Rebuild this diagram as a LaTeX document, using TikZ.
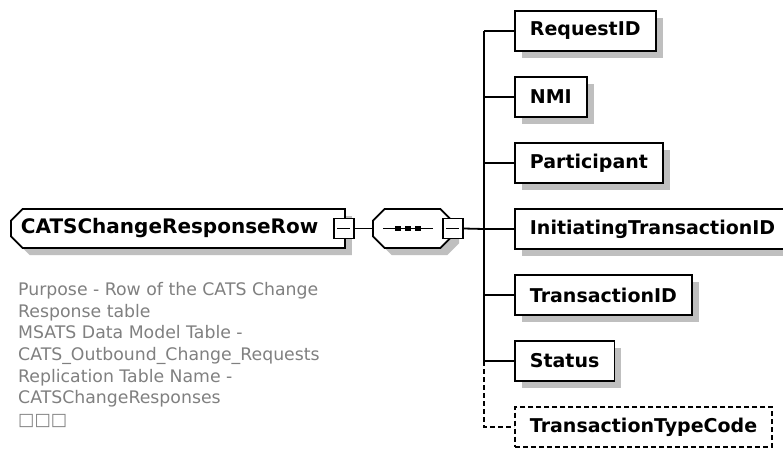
\documentclass[tikz,border=0pt]{standalone}
\usepackage{fontspec}
\setmainfont{DejaVu Sans}
\usetikzlibrary{shapes.misc,shadows,calc}
\begin{document}
\begin{tikzpicture}[x=1pt,y=-1pt,
  ln/.style={line width=1.8pt},
  shd/.style={drop shadow={shadow xshift=7pt,shadow yshift=-7pt,fill=black!25,opacity=1}},
  elem/.style={ln,draw,fill=white,anchor=west,minimum height=40pt,inner xsep=15pt,
    font=\fontsize{19}{22}\selectfont\bfseries},
  minusbox/.style={ln,draw,fill=white,minimum size=20pt,inner sep=0pt,
    path picture={\draw[ln] ($(path picture bounding box.center)+(-6.5pt,0)$) -- ($(path picture bounding box.center)+(6.5pt,0)$);}},
  dsh/.style={dash pattern=on 5pt off 3pt}
]
\useasboundingbox (0,0) rectangle (783,448);
\fill[white] (0,0) rectangle (783,448);

% root element
\node[chamfered rectangle,chamfered rectangle corners={north west,south west},
  chamfered rectangle xsep=8pt,ln,draw,fill=white,shd,
  minimum width=334pt,minimum height=39pt,text width=314pt,align=left,inner xsep=2pt,
  anchor=west,font=\fontsize{20}{24}\selectfont\bfseries] (root) at (10,228.5) {CATSChangeResponseRow};
\node[minusbox] (rootm) at ($(root.east)+(-2,0)$) {};

% sequence compositor
\node[chamfered rectangle,chamfered rectangle xsep=10pt,ln,draw,fill=white,shd,
  minimum width=79pt,minimum height=39pt,text width=40pt,inner sep=8pt] (seq) at (412.5,228.5) {};
\draw[ln] ($(seq.center)+(-29.5,0)$) -- ($(seq.center)+(20.5,0)$);
\foreach \dx in {-14.5,-4.5,5.5}{\fill ($(seq.center)+(\dx-2.8,-2.8)$) rectangle ($(seq.center)+(\dx+2.8,2.8)$);}
\node[minusbox] (seqm) at (seq.east) {};

\draw[ln] (rootm.east) -- (seq.west);

% children
\node[elem,shd] (c1) at (514,31) {RequestID};
\node[elem,shd] (c2) at (514,97) {NMI};
\node[elem,shd] (c3) at (514,163) {Participant};
\node[elem,shd] (c4) at (514,229) {InitiatingTransactionID};
\node[elem,shd] (c5) at (514,295) {TransactionID};
\node[elem,shd] (c6) at (514,361) {Status};
\node[elem,dsh] (c7) at (514,427) {TransactionTypeCode};

\coordinate (b0) at (484,229);
\coordinate (b1) at (484,31);
\coordinate (b6) at (484,361);
\coordinate (b7) at (484,427);
\draw[ln] (seqm.east) -- (b0);
\draw[ln] (b1) -- (b6);
\draw[ln,dsh] (b6) -- (b7) -- (c7.west);
\foreach \i in {1,...,6}{\draw[ln] (b1|-c\i.west) -- (c\i.west);}

% annotation
\node[anchor=north west,align=left,inner sep=0pt,text=black!50,
  font=\fontsize{17.3}{21.7}\selectfont] (ann) at (18,282)
  {Purpose - Row of the CATS Change\\Response table\\MSATS Data Model Table -\\CATS\_Outbound\_Change\_Requests\\Replication Table Name -\\CATSChangeResponses\\□□□};
\end{tikzpicture}
\end{document}
